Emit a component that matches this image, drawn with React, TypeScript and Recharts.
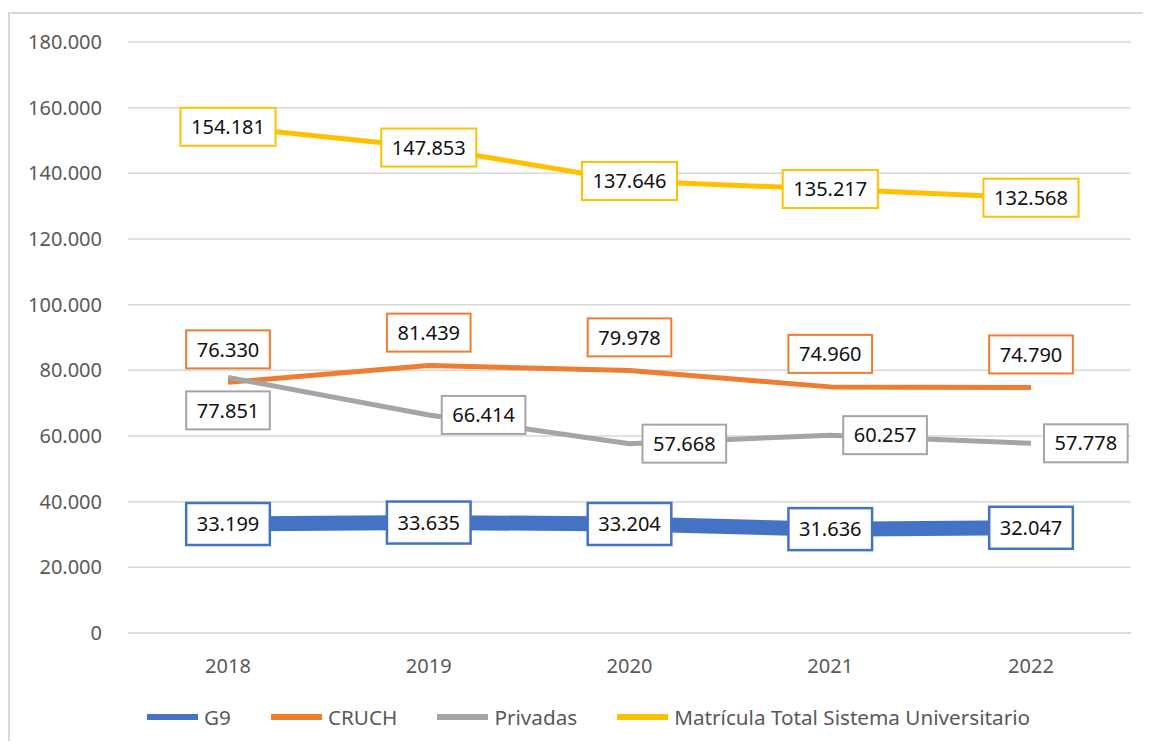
import React from 'react';
import { LineChart, Line, XAxis, YAxis, CartesianGrid, Legend, LabelList } from 'recharts';

const years = ['2018', '2019', '2020', '2021', '2022'];
const g9Values = [33199, 33635, 33204, 31636, 32047];
const cruchValues = [76330, 81439, 79978, 74960, 74790];
const privadasValues = [77851, 66414, 57668, 60257, 57778];
const totalValues = [154181, 147853, 137646, 135217, 132568];
const yTicks = [0, 20000, 40000, 60000, 80000, 100000, 120000, 140000, 160000, 180000];

const seriesNames = ['G9', 'CRUCH', 'Privadas', 'Matrícula Total Sistema Universitario'];

const data = years.map((year, i) => ({
  year,
  g9: g9Values[i],
  cruch: cruchValues[i],
  privadas: privadasValues[i],
  total: totalValues[i],
}));

const FONT = '"Noto Sans", "Open Sans", sans-serif';

const fmt = (n: number) => {
  if (n === 0) return '0';
  const thousands = Math.floor(n / 1000);
  const rest = n % 1000;
  return `${thousands}.${String(rest).padStart(3, '0')}`;
};

type Placement = 'center' | 'above' | 'below' | 'right';

const textWidth = (s: string) => {
  let w = 0;
  for (const ch of s) w += ch === '.' ? 5.4 : 11.45;
  return w;
};

const makeLabel = (color: string, borderW: number, boxH: number, placements: Placement[]) => (props: any) => {
  const { x, y, value, index } = props;
  if (x == null || y == null) return null;
  const text = fmt(Number(value));
  const w = textWidth(text) + 21;
  const h = boxH;
  const p = placements[index] || 'center';
  let cx = x;
  let cy = y;
  if (p === 'above') cy = y - 14 - h / 2;
  if (p === 'below') cy = y + 14 + h / 2;
  if (p === 'right') cx = x + 13 + w / 2;
  return (
    <g>
      <rect
        x={cx - w / 2}
        y={cy - h / 2}
        width={w}
        height={h}
        fill="#ffffff"
        stroke={color}
        strokeWidth={borderW}
      />
      <text
        x={cx}
        y={cy}
        dy="0.36em"
        textAnchor="middle"
        fontSize={20}
        fontFamily={FONT}
        fill="#111111"
      >
        {text}
      </text>
    </g>
  );
};

const renderLegend = (props: any) => {
  const payload = [...(props.payload || [])].sort(
    (a: any, b: any) => seriesNames.indexOf(a.value) - seriesNames.indexOf(b.value)
  );
  return (
    <div style={{ display: 'flex', alignItems: 'center', height: 40, fontFamily: FONT }}>
      {payload.map((entry: any, i: number) => (
        <div key={i} style={{ display: 'flex', alignItems: 'center', marginRight: 40 }}>
          <div style={{ width: 51, height: 6, background: entry.color, marginRight: 6 }} />
          <span style={{ fontSize: 20.7, color: '#595959', lineHeight: '24px' }}>{entry.value}</span>
        </div>
      ))}
    </div>
  );
};

export default function App() {
  return (
    <div style={{ position: 'relative', width: 1143, height: 733, overflow: 'hidden' }}>
      <div
        style={{
          position: 'absolute',
          left: 0,
          top: 4,
          width: 1143,
          height: 729,
          borderTop: '2px solid #d9d9d9',
          borderLeft: '2px solid #d9d9d9',
          boxSizing: 'border-box',
        }}
      />
      <div style={{ position: 'absolute', left: 0, top: 0 }}>
        <LineChart width={1143} height={733} data={data} margin={{ top: 34, right: 20, left: 0, bottom: 4 }}>
          <CartesianGrid vertical={false} stroke="#d9d9d9" strokeWidth={1.5} />
          <XAxis
            dataKey="year"
            padding={{ left: 100, right: 100 }}
            height={64}
            tickSize={0}
            tickMargin={26}
            axisLine={{ stroke: '#d9d9d9', strokeWidth: 1.5 }}
            tickLine={false}
            tick={{ fontSize: 20, fill: '#595959', fontFamily: FONT }}
          />
          <YAxis
            width={120}
            domain={[0, 180000]}
            ticks={yTicks}
            tickFormatter={fmt}
            tickSize={0}
            tickMargin={26}
            axisLine={false}
            tickLine={false}
            tick={{ fontSize: 20, fill: '#595959', fontFamily: FONT }}
          />
          <Legend
            content={renderLegend}
            verticalAlign="bottom"
            wrapperStyle={{ left: 139, bottom: 4, height: 40, width: 'auto' }}
          />
          <Line
            type="linear"
            dataKey="g9"
            name={seriesNames[0]}
            stroke="#4472C4"
            strokeWidth={15}
            dot={false}
            activeDot={false}
            isAnimationActive={false}
            strokeLinejoin="round"
          >
            <LabelList dataKey="g9" content={makeLabel('#4472C4', 2.5, 42, ['center', 'center', 'center', 'center', 'center'])} />
          </Line>
          <Line
            type="linear"
            dataKey="cruch"
            name={seriesNames[1]}
            stroke="#ED7D31"
            strokeWidth={5}
            dot={false}
            activeDot={false}
            isAnimationActive={false}
            strokeLinejoin="round"
          >
            <LabelList dataKey="cruch" content={makeLabel('#ED7D31', 2, 38, ['above', 'above', 'above', 'above', 'above'])} />
          </Line>
          <Line
            type="linear"
            dataKey="privadas"
            name={seriesNames[2]}
            stroke="#A5A5A5"
            strokeWidth={5}
            dot={false}
            activeDot={false}
            isAnimationActive={false}
            strokeLinejoin="round"
          >
            <LabelList dataKey="privadas" content={makeLabel('#A5A5A5', 2, 38, ['below', 'right', 'right', 'right', 'right'])} />
          </Line>
          <Line
            type="linear"
            dataKey="total"
            name={seriesNames[3]}
            stroke="#FFC000"
            strokeWidth={5}
            dot={false}
            activeDot={false}
            isAnimationActive={false}
            strokeLinejoin="round"
          >
            <LabelList dataKey="total" content={makeLabel('#FFC000', 2, 38, ['center', 'center', 'center', 'center', 'center'])} />
          </Line>
        </LineChart>
      </div>
    </div>
  );
}
